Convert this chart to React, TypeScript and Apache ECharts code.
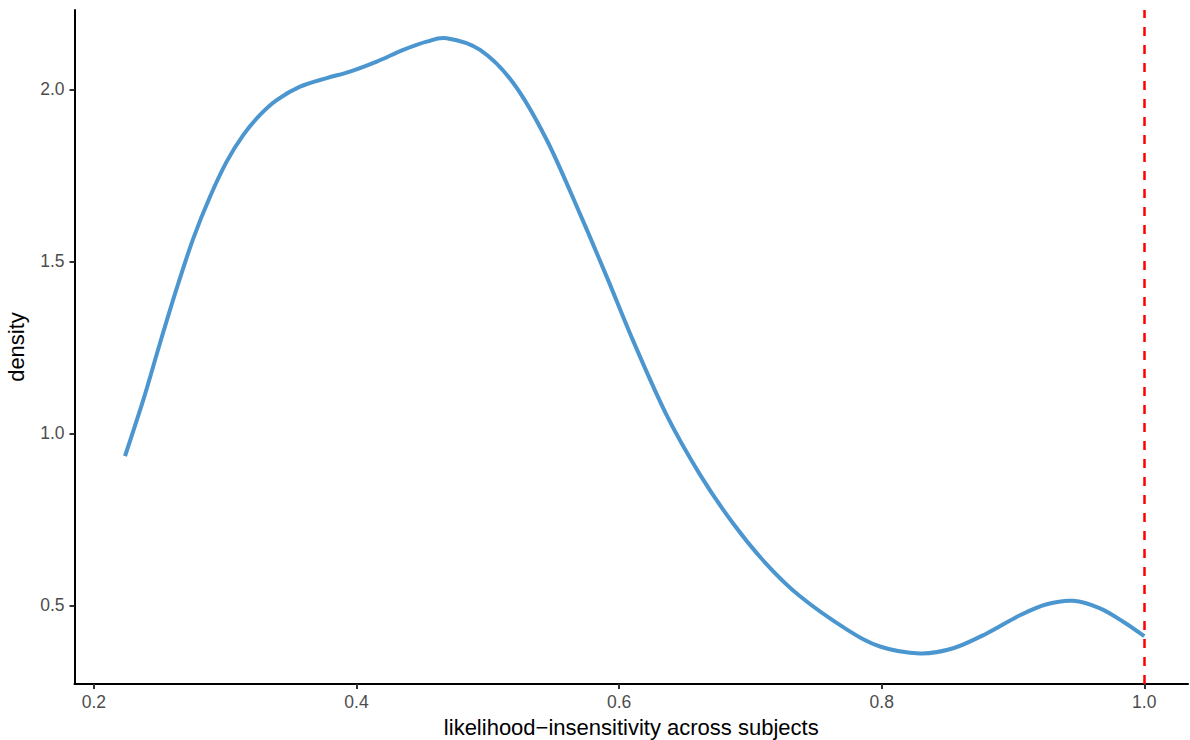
import React, { useEffect, useRef } from "react";
import * as echarts from "echarts";

// Density curve
const xValues: number[] = [
  0.2237, 0.2376, 0.2503, 0.2631, 0.2757, 0.2884, 0.3011, 0.3138, 0.3265, 0.3392,
  0.357, 0.3773, 0.395, 0.4154, 0.4356, 0.4535, 0.4687, 0.4941, 0.5195, 0.5449,
  0.5702, 0.5918, 0.6108, 0.6363, 0.6616, 0.687, 0.7124, 0.7378, 0.7733, 0.7987,
  0.8292, 0.8545, 0.88, 0.9053, 0.9257, 0.9459, 0.9663, 0.984, 1.0,
];
const densityValues: number[] = [
  0.934, 1.097, 1.262, 1.422, 1.567, 1.688, 1.79, 1.868, 1.926, 1.969,
  2.008, 2.033, 2.052, 2.081, 2.115, 2.139, 2.149, 2.115, 2.018, 1.853,
  1.638, 1.444, 1.268, 1.052, 0.88, 0.737, 0.619, 0.526, 0.43, 0.38,
  0.36, 0.375, 0.418, 0.471, 0.503, 0.513, 0.491, 0.452, 0.41,
];
const xTicks: number[] = [0.2, 0.4, 0.6, 0.8, 1.0];
const yTicks: number[] = [0.5, 1.0, 1.5, 2.0];
const referenceX = 1.0;
const xRange: [number, number] = [0.1852, 1.0333];
const yRange: [number, number] = [0.271, 2.231];
const xTitle = "likelihood\u2212insensitivity across subjects";
const yTitle = "density";

const FONT = "'Liberation Sans', Arial, Helvetica, sans-serif";

export default function App() {
  const ref = useRef<HTMLDivElement>(null);

  useEffect(() => {
    document.body.style.margin = "0";
    if (!ref.current) return;
    const chart = echarts.init(ref.current, undefined, { renderer: "svg" });
    const data = xValues.map((x, i) => [x, densityValues[i]]);

    // Smooth curve through the data points (Catmull-Rom as cubic Beziers),
    // positioned by the chart's own axes via api.coord.
    const renderCurve = (params: any, api: any) => {
      if (params.dataIndex !== 0) return null;
      const pts: number[][] = data.map((d) => api.coord(d));
      const n = pts.length;
      let d = `M${pts[0][0]},${pts[0][1]}`;
      for (let i = 0; i < n - 1; i++) {
        const p0 = pts[Math.max(0, i - 1)];
        const p1 = pts[i];
        const p2 = pts[i + 1];
        const p3 = pts[Math.min(n - 1, i + 2)];
        const c1x = p1[0] + (p2[0] - p0[0]) / 6;
        const c1y = p1[1] + (p2[1] - p0[1]) / 6;
        const c2x = p2[0] - (p3[0] - p1[0]) / 6;
        const c2y = p2[1] - (p3[1] - p1[1]) / 6;
        d += ` C${c1x},${c1y} ${c2x},${c2y} ${p2[0]},${p2[1]}`;
      }
      return {
        type: "path",
        shape: { pathData: d },
        style: {
          fill: "none",
          stroke: "#4C96D0",
          lineWidth: 4,
          lineCap: "butt",
          lineJoin: "round",
        },
        silent: true,
      };
    };

    chart.setOption({
      animation: false,
      backgroundColor: "#ffffff",
      textStyle: { fontFamily: FONT },
      grid: {
        left: 74.5,
        right: 2,
        top: 10,
        bottom: 56,
        containLabel: false,
        outerBoundsMode: "none",
      },
      xAxis: {
        type: "value",
        min: xRange[0],
        max: xRange[1],
        splitLine: { show: false },
        axisLine: { show: true, onZero: false, lineStyle: { color: "#000000", width: 2 } },
        axisTick: {
          show: true,
          length: 5,
          customValues: xTicks,
          lineStyle: { color: "#333333", width: 2 },
        },
        axisLabel: {
          customValues: xTicks,
          color: "#4D4D4D",
          fontSize: 17.5,
          fontFamily: FONT,
          margin: 9,
          formatter: (v: number) => v.toFixed(1),
        },
        name: xTitle,
        nameLocation: "middle",
        nameGap: 32,
        nameTextStyle: { color: "#000000", fontSize: 22, fontFamily: FONT },
      },
      yAxis: {
        type: "value",
        min: yRange[0],
        max: yRange[1],
        splitLine: { show: false },
        axisLine: { show: true, onZero: false, lineStyle: { color: "#000000", width: 2 } },
        axisTick: {
          show: true,
          length: 5,
          customValues: yTicks,
          lineStyle: { color: "#333333", width: 2 },
        },
        axisLabel: {
          customValues: yTicks,
          color: "#4D4D4D",
          fontSize: 17.5,
          fontFamily: FONT,
          margin: 10,
          formatter: (v: number) => v.toFixed(1),
        },
        name: yTitle,
        nameLocation: "middle",
        nameGap: 47,
        nameRotate: 90,
        nameTextStyle: { color: "#000000", fontSize: 22, fontFamily: FONT },
      },
      series: [
        {
          type: "custom",
          coordinateSystem: "cartesian2d",
          data,
          renderItem: renderCurve,
          clip: true,
          z: 3,
        },
        {
          type: "line",
          data: [],
          symbol: "none",
          z: 4,
          markLine: {
            silent: true,
            symbol: "none",
            label: { show: false },
            lineStyle: { color: "#FF0000", width: 2.5, type: [9, 9], opacity: 1 },
            data: [{ xAxis: referenceX }],
            z: 4,
          },
        },
      ],
    });
    return () => chart.dispose();
  }, []);

  return <div ref={ref} style={{ width: 1190, height: 740 }} />;
}
